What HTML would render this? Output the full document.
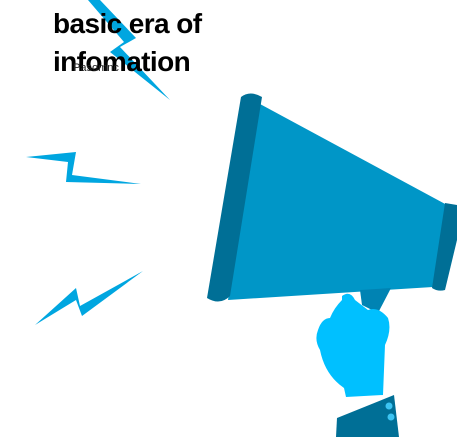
<!DOCTYPE html>
<html><head><meta charset="utf-8"><style>
html,body{margin:0;padding:0;background:#fff;width:457px;height:437px;overflow:hidden;position:relative}
svg{position:absolute;left:0;top:0}
.t{position:absolute;left:53px;top:5px;font:bold 28px/38px "Liberation Sans",sans-serif;letter-spacing:-0.6px;color:#000;width:200px}
.s{position:absolute;left:73px;top:62px;font:11px "Liberation Sans",sans-serif;color:#222}
</style></head><body>
<svg width="457" height="437">
<polygon points="88,0 100,0 136,38 120,47 170,100 110,52 124,42" fill="#00a6e0"/>
<polygon points="26,157 76,152 72,175 141,184 66,182 68,162" fill="#00a6e0"/>
<polygon points="35,325 76,288 80,306 143,271 82,316 76,300" fill="#00a6e0"/>
<polygon points="260,104 447,205 433,287 228,300" fill="#0096c7"/>
<path d="M241,97 Q250,90 262,97 L230,296 Q220,306 207,298 Z" fill="#006f96"/>
<path d="M445,203 L457,205 L457,240 L445,290 Q438,292 432,288 Z" fill="#006f96"/>
<polygon points="360,290 391,288 378,313 362,305" fill="#0083b3"/>
<path d="M342,296 Q350,290 355,300 L368,310 Q378,306 388,318 Q392,330 385,345 L383,395 L346,397 L344,388 Q325,375 320,350 Q314,340 318,330 Q322,318 330,318 Q334,308 342,300 Z" fill="#00c0ff"/>
<polygon points="337,418 394,395 399,437 336,437" fill="#006f96"/>
<circle cx="389" cy="406" r="3.5" fill="#3cc4f2"/><circle cx="391" cy="417" r="3.5" fill="#3cc4f2"/>
</svg>
<div class="t">basic era of infomation</div>
<div class="s">Pasomnc</div>
</body></html>
